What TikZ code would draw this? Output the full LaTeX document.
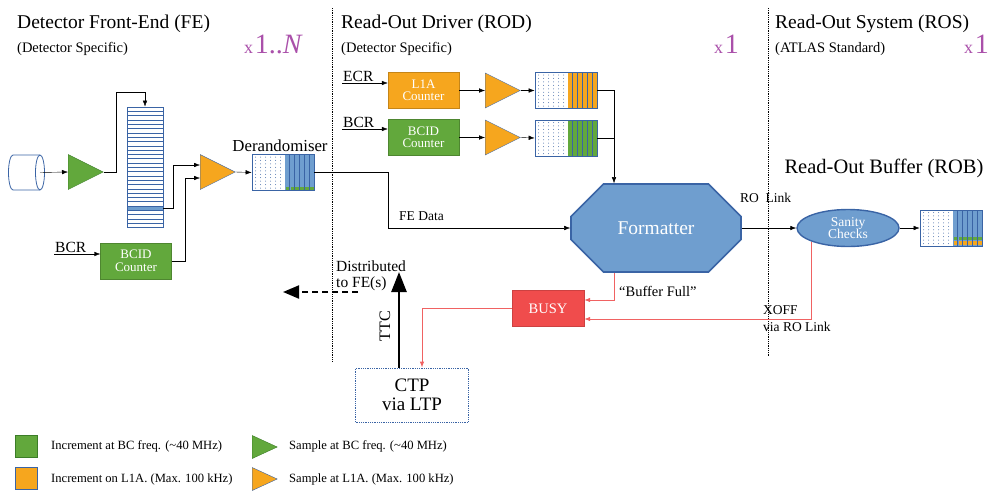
\documentclass[tikz,border=0pt]{standalone}
\usepackage{fontspec}
\setmainfont{Liberation Serif}
\usetikzlibrary{arrows.meta,shapes.geometric,shapes.misc,calc}
\definecolor{roblue}{RGB}{111,158,207}
\definecolor{robline}{RGB}{58,100,165}
\definecolor{rogreen}{RGB}{98,168,60}
\definecolor{rogline}{RGB}{60,125,40}
\definecolor{roorange}{RGB}{246,166,30}
\definecolor{rored}{RGB}{240,76,76}
\definecolor{roredline}{RGB}{240,98,98}
\definecolor{ropurple}{RGB}{170,80,170}

\begin{document}
\begin{tikzpicture}[x=1pt, y=-1pt,
  >={Latex[length=6pt,width=4.5pt]},
  lbl/.style={font=\fontsize{13.5}{14}\selectfont, inner sep=1pt},
  title/.style={font=\fontsize{19.5}{21}\selectfont, anchor=base west, inner sep=0},
  subtitle/.style={font=\fontsize{14.5}{15}\selectfont, anchor=base west, inner sep=0},
  counter/.style={draw=#1!80!black, fill=#1, text=white, minimum width=71, minimum height=36,
    inner sep=0, align=center, font=\fontsize{13}{12.5}\selectfont},
  amp/.style 2 args={isosceles triangle, isosceles triangle stretches, fill=#1, draw=#2,
    minimum width=35, minimum height=35, inner sep=0, anchor=west},
  fifo/.style={draw=robline, thick, fill=white, minimum width=62, minimum height=36, inner sep=0,
    path picture={
      \fill[#1] ($(path picture bounding box.north)+(2pt,0)$) rectangle (path picture bounding box.south east);
      \foreach \k in {1,...,5}
        \draw[robline, line width=0.7pt] ($(path picture bounding box.north)+(2pt+\k*4.83pt,0)$)
          -- ($(path picture bounding box.south)+(2pt+\k*4.83pt,0)$);
      \foreach \i in {0,...,5}
        \foreach \j in {0,...,9}
          \fill[robline!85] ($(path picture bounding box.north west)+(3.5pt+\i*5pt,-2.5pt-\j*3.45pt)$) circle (0.5pt);
    }},
  mult/.style={anchor=base west, text=ropurple, inner sep=0},
  redarrow/.style={draw=roredline, thick, ->, >={Latex[length=6pt,width=4.5pt]}},
  divider/.style={densely dotted, thick}]

\useasboundingbox (0,0) rectangle (995,491);

% Headings
\node[title] (tfe) at (17,28) {Detector Front-End (FE)};
\node[subtitle] (sfe) at (17,52) {(Detector Specific)};
\node[mult] (nfe) at (244,53)
  {{\fontsize{18}{18}\selectfont x}\,{\fontsize{28}{28}\selectfont 1..\textit{N}}};
\node[title] (trod) at (341,28) {Read-Out Driver (ROD)};
\node[subtitle] (srod) at (341,52) {(Detector Specific)};
\node[mult] (nrod) at (714,53)
  {{\fontsize{18}{18}\selectfont x}\,{\fontsize{28}{28}\selectfont 1}};
\node[title] (tros) at (775,28) {Read-Out System (ROS)};
\node[subtitle] (sros) at (775,52) {(ATLAS Standard)};
\node[mult] (nros) at (964,53)
  {{\fontsize{18}{18}\selectfont x}\,{\fontsize{28}{28}\selectfont 1}};
\draw[divider] (332,8) -- (332,362);
\draw[divider] (768,8) -- (768,356);

% Front-end
\draw[robline, thick, fill=white] (13,155) -- (40,155) arc (90:-90:4.5pt and 17.5pt) -- (13,190)
  arc (270:90:4.5pt and 17.5pt) -- cycle;
\draw[robline, thick] (40,155) arc (90:270:4.5pt and 17.5pt);
\coordinate (det) at (40,172.5);
\node[amp={rogreen}{rogline}] (gfe) at (68,172) {};
\fill[roblue] (127,205.6) rectangle (163,210.2);
\foreach \r in {1,...,27}
  \draw[robline] (127,107+\r*4.3) -- (163,107+\r*4.3);
\node[draw=robline, thick, minimum width=36, minimum height=120, inner sep=0] (pipe) at (145,167) {};
\node[amp={roorange}{robline}] (ofe) at (200,172) {};
\node[counter=rogreen] (bcidfe) at (136,261) {BCID\\Counter};
\node[lbl, anchor=south west, font=\fontsize{15.5}{16}\selectfont] (bcrfe) at (54,254) {BCR};
\node[fifo=roblue] (der) at (283,172.5) {};
\foreach \k in {0,...,5}
  \fill[rogreen] (285.8+\k*4.83,186.5) rectangle +(3.6,3.6);
\node[font=\fontsize{16.8}{17}\selectfont, anchor=south, inner sep=2pt] (derl) at ([xshift=-3pt]der.north) {Derandomiser};

\draw[->] (det) -- (gfe.west);
\draw[->] (gfe.apex) -| ++(12,-80) -| (pipe.north);
\draw[->] (pipe.east |- 0,208) -- ++(10,0) |- ([yshift=7pt]ofe.west);
\draw[->] (bcidfe.east) -- ++(13,0) |- ([yshift=-6pt]ofe.west);
\draw[->] (bcrfe.south west) -- (bcrfe.south west -| bcidfe.west);
\draw[->] (ofe.apex) -- (der.west);

% Read-out driver
\node[counter=roorange] (l1a) at (423.5,90.5) {L1A\\Counter};
\node[counter=rogreen] (bcid) at (423.5,137.5) {BCID\\Counter};
\node[lbl, anchor=south west, font=\fontsize{15.5}{16}\selectfont] (ecr) at (342,83) {ECR};
\node[lbl, anchor=south west, font=\fontsize{15.5}{16}\selectfont] (bcr) at (342,129) {BCR};
\node[amp={roorange}{robline}] (oa) at (485,90.5) {};
\node[amp={roorange}{robline}] (ob) at (485,137.5) {};
\node[fifo=roorange] (fa) at (566,90.5) {};
\node[fifo=rogreen] (fb) at (566,138) {};
\node[chamfered rectangle, chamfered rectangle xsep=24pt, chamfered rectangle ysep=26pt,
  draw=robline, line width=1.6pt, fill=roblue, text=white, minimum width=170, minimum height=88,
  inner sep=0, font=\fontsize{19.5}{19}\selectfont] (fmt) at (656,228) {Formatter};
\coordinate (fmtin) at ($(fmt.north)+(-42pt,0)$);
\node[lbl, anchor=west] (fed) at (398,216) {FE Data};

\draw[->] (ecr.south west) -- (ecr.south west -| l1a.west);
\draw[->] (bcr.south west) -- (bcr.south west -| bcid.west);
\draw[->] (l1a.east) -- (oa.west);
\draw[->] (bcid.east) -- (ob.west);
\draw[->] (oa.apex) -- (fa.west);
\draw[->] (ob.apex) -- (fb.west);
\draw[->] (fa.east) -| (fmtin);
\draw (fb.east) -- (fb.east -| fmtin);
\draw[->] (der.east) -- ++(74,0) |- (fmt.west);

% Read-out system
\node[ellipse, draw=robline, line width=1.4pt, fill=roblue, text=white, minimum width=102,
  minimum height=37, inner sep=0, align=center, font=\fontsize{13.5}{12.5}\selectfont] (san) at (848,228) {Sanity\\Checks};
\node[fifo=roblue] (rob) at (951,228) {};
\foreach \k in {0,...,5} {
  \fill[rogreen] (953.8+\k*4.83,236.5) rectangle +(3.6,3.6);
  \fill[roorange] (953.8+\k*4.83,241.3) rectangle +(3.6,3.6);
}
\node[font=\fontsize{20.5}{21}\selectfont, inner sep=0] (robl) at (884,168) {Read-Out Buffer (ROB)};
\node[lbl, anchor=west] (rol) at (739,198) {RO\ \ Link};
\draw[semithick, ->] (fmt.east) -- (san.west);
\draw[->] (san.east) -- (rob.west);

% Busy and trigger
\node[draw=rored!85!black, fill=rored, text=white, minimum width=72, minimum height=36, inner sep=0,
  font=\fontsize{14.5}{14}\selectfont] (busy) at (548,308.5) {BUSY};
\node[draw=robline, densely dotted, thick, minimum width=113, minimum height=54, inner sep=0,
  align=center, font=\fontsize{19}{19}\selectfont] (ctp) at (412,395) {CTP\\via LTP};
\node[lbl, anchor=west, font=\fontsize{14.5}{15}\selectfont] (bfl) at (618,291) {``Buffer Full''};
\node[lbl, anchor=west, align=left] (xoff) at (762,319) {XOFF\\[3pt]via RO Link};
\node[lbl, anchor=west, align=left, inner sep=0, font=\fontsize{15.5}{16}\selectfont] (dist) at (336,276) {Distributed\\to FE(s)};
\node[lbl, rotate=90, font=\fontsize{16}{16}\selectfont] (ttc) at (385,326) {TTC};
\coordinate (ttcend) at (399,272);
\coordinate (distfrom) at (358,292);
\coordinate (distto) at (283,292);

\draw[redarrow] ([xshift=-42pt]fmt.south) |- ([yshift=8.5pt]busy.east);
\draw[redarrow] (san.south west) |- ([yshift=-10.5pt]busy.east);
\draw[redarrow] (busy.west) -| ([xshift=10pt]ctp.north);
\draw[line width=2.6pt, -{Triangle[length=20pt,width=15pt]}] ([xshift=-13pt]ctp.north) -- (ttcend);
\draw[line width=2pt, dash pattern=on 6pt off 4pt, -{Triangle[length=16pt,width=13pt]}] (distfrom) -- (distto);

% Legend
\node[draw=rogline, fill=rogreen, minimum size=22, inner sep=0] (lgg) at (26,446) {};
\node[draw=robline, fill=roorange, minimum size=22, inner sep=0] (lgo) at (26,478) {};
\node[amp={rogreen}{rogline}, minimum width=23, minimum height=25] (lgt) at (252,447) {};
\node[amp={roorange}{robline}, minimum width=23, minimum height=25] (lot) at (252,479) {};
\node[lbl, anchor=west, font=\fontsize{12.6}{13}\selectfont] (lggt) at (50,446) {Increment at BC freq. (\textasciitilde40 MHz)};
\node[lbl, anchor=west, font=\fontsize{12.6}{13}\selectfont] (lgot) at (50,479) {Increment on L1A. (Max. 100 kHz)};
\node[lbl, anchor=west, font=\fontsize{12.6}{13}\selectfont] (lgtt) at (288,446) {Sample at BC freq. (\textasciitilde40 MHz)};
\node[lbl, anchor=west, font=\fontsize{12.6}{13}\selectfont] (lott) at (288,479) {Sample at L1A. (Max. 100 kHz)};
\end{tikzpicture}
\end{document}
